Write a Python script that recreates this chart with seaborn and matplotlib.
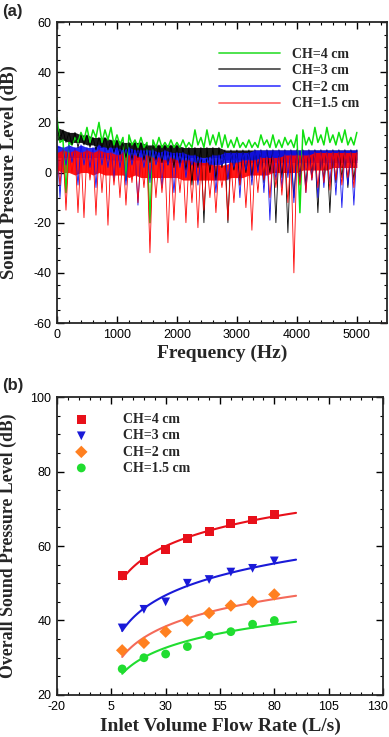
import numpy as np
import pandas as pd
import matplotlib
matplotlib.use("Agg")
import matplotlib.pyplot as plt
from matplotlib.lines import Line2D
from matplotlib.ticker import MultipleLocator
from matplotlib.transforms import ScaledTranslation
import seaborn as sns

# ---------------- (a) spectra
# band top and dense-band bottom at 0,100,...,5000 Hz; spike ends at 50,150,...,4950 Hz
freq_top = list(range(0, 5001, 100))
freq_low = list(range(50, 5000, 100))

ch4_top = [22, 13, 12, 14, 16, 18, 17, 20, 17, 18, 15, 14, 15, 13, 14, 12, 13, 14, 12, 13, 12,
           13, 12, 17, 14, 17, 15, 16, 15, 13, 14, 12, 13, 12, 15, 13, 15, 13, 14, 13, 15,
           17, 14, 18, 15, 18, 15, 16, 17, 14, 16]
ch4_dip = [12, -8, 11, 12, 13, 12, 14, 12, 13, 11, 11, -3, 11, 10, 10, -20, 10, 10, 10, 10,
           10, 10, 10, 11, 10, 11, 11, 10, 10, 10, 10, 10, 10, 10, 11, 10, 10, 10, 11, 10,
           -16, 11, 11, 12, 11, 12, 11, 12, 11, 11]

ch3_top = [18, 17, 16, 16, 15, 15, 14, 14, 14, 13, 13, 12, 12, 12, 12, 11, 11, 11, 11, 11, 11,
           10, 10, 10, 10, 10, 10, 10, 9, 9, 9, 9, 9, 9, 9, 9, 9, 9, 9, 9, 9,
           9, 9, 9, 9, 9, 9, 9, 9, 9, 9]
ch3_base = [13, 13, 12, 12, 12, 11, 11, 10, 10, 10, 9, 9, 8, 8, 8, 7, 7, 7, 7, 7, 7,
            6, 6, 6, 6, 6, 6, 6, 5, 5, 5, 5, 5, 5, 5, 5, 5, 5, 5, 5, 5,
            5, 5, 5, 5, 5, 5, 5, 5, 5, 5]
ch3_dip = [13, 12, 11, 10, 11, 10, 9, 10, 9, 8, 7, 6, 5, 6, 5, 4, 5, 4, 3, 2,
           3, 1, -5, 2, -20, 0, -3, 2, -20, 1, -5, 0, -2, 1, -4, 0, -20, -2, -24, -10,
           -3, -5, -2, -16, -3, -16, -4, -2, -6, -3]

ch2_top = [11, 10, 11, 10, 11, 10, 10, 11, 10, 10, 10, 9, 10, 9, 9, 9, 9, 8, 9, 8, 8,
           8, 7, 7, 6, 6, 7, 7, 8, 8, 8, 8, 8, 9, 9, 9, 9, 9, 9, 9, 9,
           9, 9, 9, 9, 9, 9, 9, 9, 9, 9]
ch2_base = [6, 6, 6, 6, 6, 6, 6, 6, 6, 5, 5, 5, 5, 5, 5, 5, 5, 4, 4, 4, 4,
            4, 3, 3, 3, 3, 3, 3, 4, 4, 4, 4, 4, 4, 4, 4, 4, 4, 4, 4, 4,
            4, 4, 4, 4, 4, 4, 4, 4, 4, 4]
ch2_dip = [-10, 3, 4, -5, 3, 2, -6, 3, 2, -3, 2, -5, 3, -13, 2, -4, 3, -6, 3, -8,
           2, -2, 3, -5, 4, 3, -8, 3, -3, 2, -10, 1, -5, 0, -8, -19, -3, -6, -2, -12,
           -4, -8, -3, -10, -6, -4, -9, -14, -5, -13]

ch15_top = [8, 9, 8, 9, 8, 9, 8, 9, 8, 8, 7, 8, 7, 7, 6, 7, 6, 6, 5, 6, 5,
            5, 5, 4, 4, 4, 3, 3, 3, 4, 4, 5, 5, 5, 6, 6, 6, 6, 7, 7, 7,
            7, 7, 8, 8, 8, 8, 8, 8, 8, 8]
ch15_base = [1, 0, 0, -1, 0, 0, -1, 0, -1, -1, -1, -1, -2, -1, -2, -2, -2, -2, -2, -2, -2,
             -3, -3, -3, -3, -3, -3, -3, -3, -2, -2, -2, -1, -1, -1, -1, 0, 0, 0, 0, 0,
             1, 1, 1, 1, 1, 2, 2, 2, 2, 2]
ch15_dip = [-5, -15, 0, -16, -18, -3, -17, -8, -21, -5, -10, -13, -4, -12, -6, -32, -10, -8, -28, -19,
            -8, -20, -12, -22, -15, -10, -16, -6, -19, -12, -5, -14, -23, -8, -3, -10, -6, -9, -12, -40,
            -5, -8, -3, -6, -4, -7, -3, -5, -2, -6]

spec_labels = ["CH=4 cm", "CH=3 cm", "CH=2 cm", "CH=1.5 cm"]
spec_colors = ["#10e010", "#000000", "#1010f0", "#ff0000"]
spec_widths = [1.1, 0.6, 0.6, 0.6]
legend_colors = ["#40e040", "#505050", "#4848ff", "#ff7070"]

# ---------------- (b) overall SPL vs flow rate
flow = [10, 20, 30, 40, 50, 60, 70, 80]
spl_ch4 = [52, 56, 59, 62, 64, 66, 67, 68.5]
spl_ch3 = [38, 43, 45, 50, 51, 53, 54, 56]
spl_ch2 = [32, 34, 37, 40, 42, 44, 45, 47]
spl_ch15 = [27, 30, 31, 33, 36, 37, 39, 40]
spl_labels = ["CH=4 cm", "CH=3 cm", "CH=2 cm", "CH=1.5 cm"]
spl_markers = ["s", "v", "D", "o"]
spl_colors = ["#e8101a", "#1a1ad8", "#ff8020", "#20dd30"]
fit_colors = ["#e8101a", "#1a1ad8", "#f46a5a", "#20dd30"]


def interleave(top, low):
    f, y = [], []
    for i in range(len(low)):
        f += [freq_top[i], freq_low[i]]
        y += [top[i], low[i]]
    f.append(freq_top[-1])
    y.append(top[-1])
    return f, y


sns.set_style("ticks")
plt.rcParams["font.family"] = ["Liberation Sans", "DejaVu Sans"]
plt.rcParams["axes.unicode_minus"] = False

fig = plt.figure(figsize=(3.89, 7.37), dpi=100)
ax1 = fig.add_axes([0.1465, 0.5617, 0.848, 0.4084])
ax2 = fig.add_axes([0.1465, 0.0570, 0.838, 0.4043])

legend_font = dict(family="Liberation Serif", weight="bold", size=10)


def label_font(size):
    return dict(family="Liberation Serif", weight="bold", size=size)


# ---- panel (a)
bases = [None, ch3_base, ch2_base, ch15_base]
series = [(ch4_top, ch4_dip), (ch3_top, ch3_dip), (ch2_top, ch2_dip), (ch15_top, ch15_dip)]
for (top, dip), base, col, w in zip(series, bases, spec_colors, spec_widths):
    if base is not None:
        ax1.fill_between(freq_top, base, top, color=col, lw=0, alpha=0.9)
    f, y = interleave(top, dip)
    df = pd.DataFrame({"f": f, "spl": y})
    sns.lineplot(data=df, x="f", y="spl", ax=ax1, color=col, lw=w,
                 estimator=None, sort=False)

handles = [Line2D([], [], color=c, lw=1.3) for c in legend_colors]
ax1.legend(handles, spec_labels, loc="upper left", bbox_to_anchor=(0.49, 0.915), frameon=False,
           prop=legend_font, handlelength=4.4, handletextpad=0.9, labelspacing=0.26,
           borderpad=0, borderaxespad=0)

ax1.set_xlim(0, 5500)
ax1.set_ylim(-60, 60)
ax1.xaxis.set_major_locator(MultipleLocator(1000))
ax1.xaxis.set_minor_locator(MultipleLocator(200))
ax1.yaxis.set_major_locator(MultipleLocator(20))
ax1.yaxis.set_minor_locator(MultipleLocator(5))
ax1.set_xlabel("Frequency (Hz)", fontdict=label_font(14), labelpad=3)
ax1.set_ylabel("Sound Pressure Level (dB)", fontdict=label_font(13.5))
ax1.yaxis.set_label_coords(-0.118, 0.5)

# ---- panel (b)
xfit = np.linspace(10, 90, 100)
ys = [spl_ch4, spl_ch3, spl_ch2, spl_ch15]
for y, lab, m, col, fcol in zip(ys, spl_labels, spl_markers, spl_colors, fit_colors):
    b, a = np.polyfit(np.log(flow), y, 1)
    sns.lineplot(x=xfit, y=a + b * np.log(xfit), ax=ax2, color=fcol, lw=1.5)
    sns.scatterplot(x=flow, y=y, ax=ax2, marker=m, color=col, s=40, edgecolor="none",
                    label=lab, zorder=3)

ax2.set_xlim(-20, 130)
ax2.set_ylim(20, 100)
ax2.set_xticks(np.arange(-20, 131, 25))
ax2.xaxis.set_minor_locator(MultipleLocator(5))
ax2.yaxis.set_major_locator(MultipleLocator(20))
ax2.yaxis.set_minor_locator(MultipleLocator(5))
ax2.set_xlabel("Inlet Volume Flow Rate (L/s)", fontdict=label_font(14), labelpad=4)
ax2.set_ylabel("Overall Sound Pressure Level (dB)", fontdict=label_font(12.8))
ax2.yaxis.set_label_coords(-0.122, 0.5)
ax2.legend(loc="upper left", bbox_to_anchor=(0.032, 0.945), frameon=False, prop=legend_font,
           handlelength=2, handletextpad=2.0, labelspacing=0.22, borderpad=0, borderaxespad=0)

for ax in (ax1, ax2):
    ax.tick_params(which="both", direction="in", top=True, right=True, labelsize=9,
                   colors="black", pad=4)
    ax.tick_params(which="major", length=5, width=1)
    ax.tick_params(which="minor", length=2.5, width=0.8)
    for s in ax.spines.values():
        s.set_linewidth(1.3)
        s.set_visible(True)

# keep the last x tick label of panel (b) inside the figure
last = ax2.get_xticklabels()[-1]
last.set_ha("right")
last.set_transform(last.get_transform() + ScaledTranslation(0.05, 0, fig.dpi_scale_trans))

fig.text(0.005, 0.995, "(a)", ha="left", va="top", fontsize=12, fontweight="bold")
fig.text(0.005, 0.487, "(b)", ha="left", va="top", fontsize=12, fontweight="bold")

fig.savefig("out.png", dpi=100)
